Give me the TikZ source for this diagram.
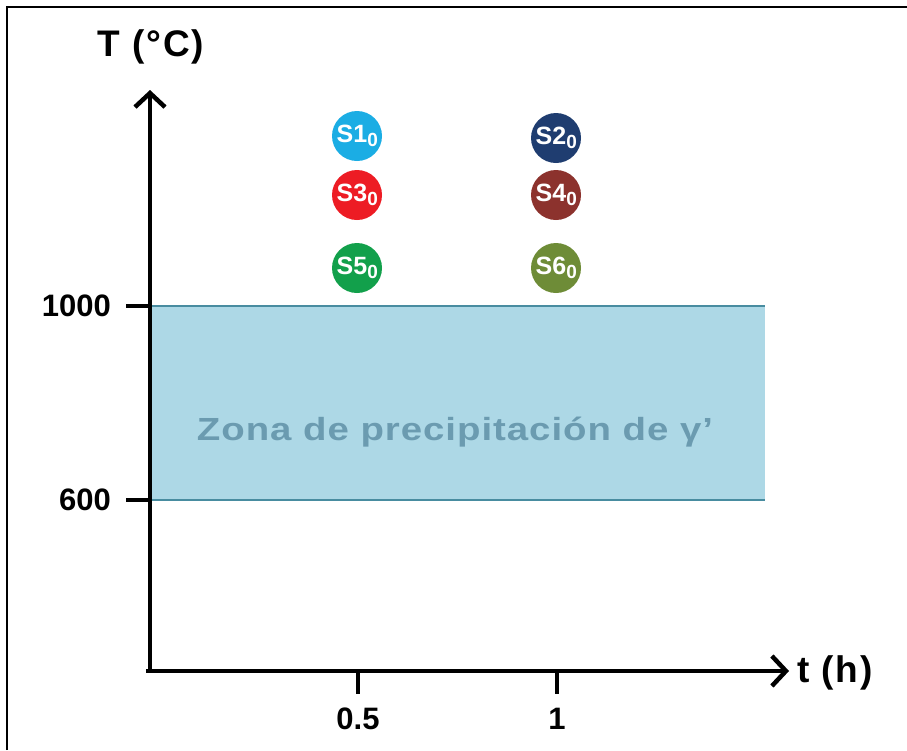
\documentclass[tikz,border=0pt]{standalone}
\usepackage{fontspec}
\setmainfont{Liberation Sans}
\newfontfamily\zonafont[FakeStretch=1.2,LetterSpace=3]{Liberation Sans}
\newfontfamily\axfont[LetterSpace=5]{Liberation Sans}
\usetikzlibrary{arrows.meta}
\definecolor{zfill}{RGB}{173,216,230}
\definecolor{zline}{RGB}{72,140,160}
\definecolor{ztext}{RGB}{107,155,176}
\definecolor{cA}{RGB}{27,173,228}
\definecolor{cB}{RGB}{31,61,112}
\definecolor{cC}{RGB}{237,28,36}
\definecolor{cD}{RGB}{140,50,45}
\definecolor{cE}{RGB}{18,160,75}
\definecolor{cF}{RGB}{110,140,55}
\tikzset{
  axis/.style={line width=4.5pt, -{Straight Barb[length=14pt,width=30pt,line width=4.5pt]}},
  tick/.style={line width=4.5pt},
  lbl/.style={font=\fontsize{31}{33}\selectfont\bfseries, inner sep=0pt},
  samp/.style={circle, minimum size=50pt, inner sep=0pt, text=white,
    font=\fontsize{25}{27}\selectfont\bfseries},
}
\newcommand{\samplbl}[1]{\hspace*{1pt}S#1$_{\mbox{\fontsize{19}{19}\selectfont\bfseries 0}}$}
\begin{document}
\begin{tikzpicture}[x=1pt,y=-1pt]
\useasboundingbox (0,0) rectangle (907,750);
% frame
\draw[line width=2.5pt] (7,750) -- (7,7) -- (907,7);
% zone
\fill[zfill] (150,306) rectangle (765,500);
\draw[zline, line width=2pt] (150,306) -- (765,306);
\draw[zline, line width=2pt] (150,500) -- (765,500);
\node[inner sep=0pt, text=ztext, font=\zonafont\fontsize{32}{34}\selectfont\bfseries] (zona) at (455,432) {Zona de precipitación de γ’};
% axes
\coordinate (O) at (150,671);
\coordinate (ytop) at (150,90);
\coordinate (xend) at (789,671);
\coordinate (xstart) at (146,671);
\draw[line width=4.5pt] (O) -- (xstart);
\draw[axis] (O) -- (ytop);
\draw[axis] (xstart) -- (xend);
% ticks
\coordinate (ty1) at (126,306); \coordinate (ty1e) at (150,306);
\coordinate (ty2) at (126,500); \coordinate (ty2e) at (150,500);
\coordinate (tx1) at (358,671); \coordinate (tx1e) at (358,694);
\coordinate (tx2) at (557,671); \coordinate (tx2e) at (557,694);
\draw[tick] (ty1) -- (ty1e);
\draw[tick] (ty2) -- (ty2e);
\draw[tick] (tx1) -- (tx1e);
\draw[tick] (tx2) -- (tx2e);
% labels
\node[lbl, anchor=east] (l1000) at (111,306) {1000};
\node[lbl, anchor=east] (l600) at (111,500) {600};
\node[lbl] (l05) at (358,719) {0.5};
\node[lbl] (l1) at (557,719) {1};
\node[lbl, font=\axfont\fontsize{37}{39}\selectfont\bfseries] (Tlab) at (151,47) {T (°C)};
\node[lbl, anchor=west, font=\axfont\fontsize{37}{39}\selectfont\bfseries] (tlab) at (797,673) {t (h)};
% samples
\node[samp, fill=cA] (s1) at (357,136) {\samplbl{1}};
\node[samp, fill=cB] (s2) at (556,138) {\samplbl{2}};
\node[samp, fill=cC] (s3) at (357,195) {\samplbl{3}};
\node[samp, fill=cD] (s4) at (556,195) {\samplbl{4}};
\node[samp, fill=cE] (s5) at (357,268) {\samplbl{5}};
\node[samp, fill=cF] (s6) at (556,268) {\samplbl{6}};
\end{tikzpicture}
\end{document}
